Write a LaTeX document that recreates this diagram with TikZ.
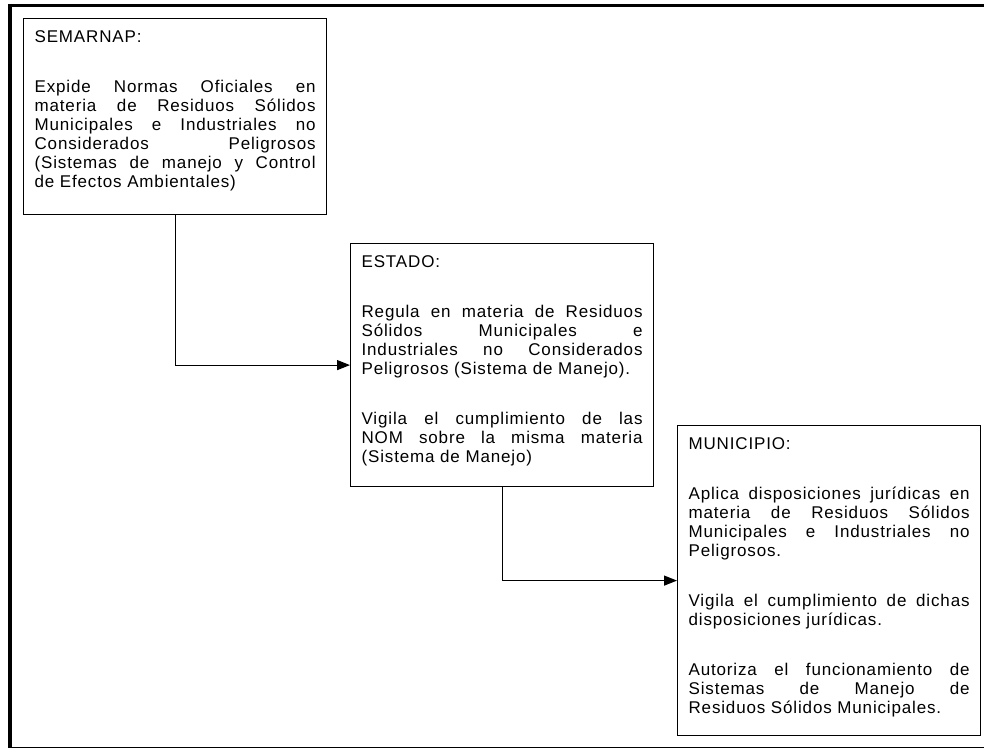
\documentclass[tikz,border=0pt]{standalone}
\usepackage{fontspec}
\setmainfont{Liberation Sans}[LetterSpace=5]
\usetikzlibrary{arrows.meta}

\newcommand{\caja}[2]{\parbox[b][#1][t]{281pt}{\fontsize{17}{19}\selectfont
\setlength{\parskip}{31pt}\setlength{\parindent}{0pt}\hbadness=10000
\rule{0pt}{24pt}#2}}

\begin{document}
\begin{tikzpicture}
[x=1pt, y=-1pt,
caja/.style = {draw, line width=1.2pt, anchor=north west, inner xsep=11pt, inner ysep=0pt},
flecha/.style = {line width=1.2pt, -{Triangle[length=13pt,width=10pt]}},
]
\useasboundingbox (0,0) rectangle (984,749);
% marco
\draw [line width=3.5pt] (8,5.7) -- (984,5.7);
\draw [line width=3.5pt] (10,4) -- (10,748);
\draw [line width=1.2pt] (8,747.5) -- (984,747.5);
% cajas
\node [caja] (semarnap) at (23,18) {\caja{196pt}{SEMARNAP:\par
Expide Normas Oficiales en\linebreak materia de Residuos Sólidos\linebreak
Municipales e Industriales no\linebreak Considerados Peligrosos\linebreak
(Sistemas de manejo y Control\linebreak de Efectos Ambientales)}};
\node [caja] (estado) at (350,243) {\caja{243pt}{ESTADO:\par
Regula en materia de Residuos\linebreak Sólidos Municipales e\linebreak
Industriales no Considerados\linebreak Peligrosos (Sistema de Manejo).\par
Vigila el cumplimiento de las\linebreak NOM sobre la misma materia\linebreak
(Sistema de Manejo)}};
\node [caja] (municipio) at (677,425) {\caja{310pt}{MUNICIPIO:\par
Aplica disposiciones jurídicas en\linebreak materia de Residuos Sólidos\linebreak
Municipales e Industriales no\linebreak Peligrosos.\par
Vigila el cumplimiento de dichas\linebreak disposiciones jurídicas.\par
Autoriza el funcionamiento de\linebreak Sistemas de Manejo de\linebreak
Residuos Sólidos Municipales.}};
% conectores
\draw [flecha] (semarnap.south) |- (estado.west);
\draw [flecha] (estado.south) |- (municipio.west);
\end{tikzpicture}
\end{document}
